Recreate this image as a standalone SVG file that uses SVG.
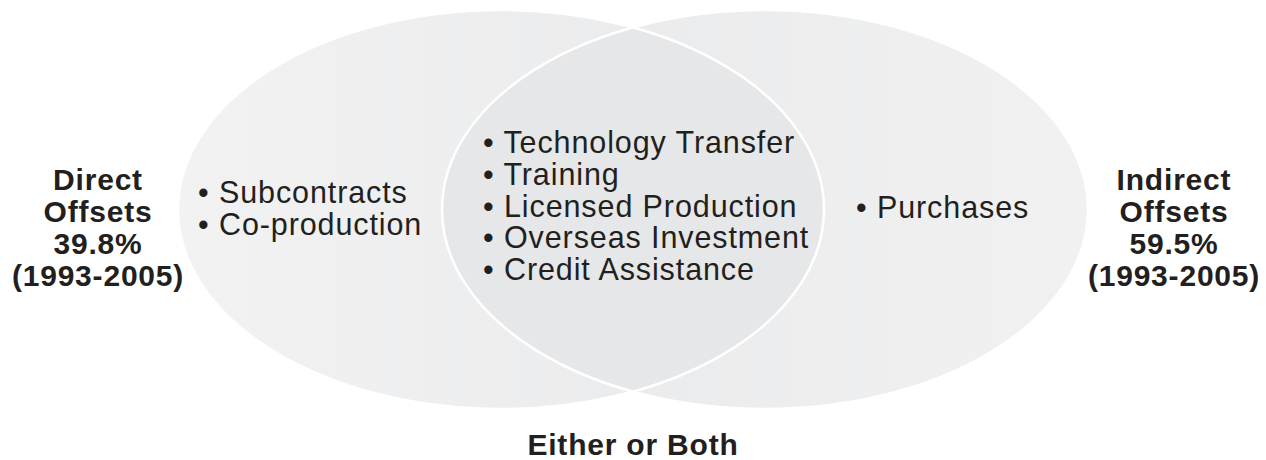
<svg xmlns="http://www.w3.org/2000/svg" width="1266" height="460" viewBox="0 0 1266 460">
  <defs>
    <linearGradient id="gL" x1="0" y1="0" x2="1" y2="0">
      <stop offset="0" stop-color="#f2f2f3"/>
      <stop offset="1" stop-color="#e8e9ea"/>
    </linearGradient>
    <linearGradient id="gR" x1="0" y1="0" x2="1" y2="0">
      <stop offset="0" stop-color="#e8e9ea"/>
      <stop offset="1" stop-color="#f1f1f2"/>
    </linearGradient>
    <clipPath id="clipL">
      <ellipse cx="501" cy="209.5" rx="323" ry="199.5"/>
    </clipPath>
    <style>
      .item { font-family: "Liberation Sans", Arial, sans-serif; font-size: 30.5px; letter-spacing: 0.9px; fill: #231f20; }
      .label { font-family: "Liberation Sans", Arial, sans-serif; font-size: 30px; font-weight: bold; letter-spacing: 0.8px; fill: #231f20; text-anchor: middle; }
      .edge { fill: none; stroke: #ffffff; stroke-width: 2.5; }
    </style>
  </defs>
  <rect width="1266" height="460" fill="#ffffff"/>
  <g id="direct-set">
    <ellipse cx="501" cy="209.5" rx="323" ry="199.5" fill="url(#gL)"/>
  </g>
  <g id="indirect-set">
    <ellipse cx="765" cy="209.5" rx="323" ry="199.5" fill="url(#gR)"/>
  </g>
  <g id="overlap">
    <ellipse cx="765" cy="209.5" rx="323" ry="199.5" fill="#e6e7e8" clip-path="url(#clipL)"/>
  </g>
  <g id="connectors">
    <ellipse class="edge" cx="501" cy="209.5" rx="323" ry="199.5"/>
    <ellipse class="edge" cx="765" cy="209.5" rx="323" ry="199.5"/>
  </g>
  <g id="direct-items">
    <text class="item" x="198" y="203">• Subcontracts</text>
    <text class="item" x="198" y="235">• Co-production</text>
  </g>
  <g id="overlap-items">
    <text class="item" x="483" y="153">• Technology Transfer</text>
    <text class="item" x="483" y="185">• Training</text>
    <text class="item" x="483" y="217">• Licensed Production</text>
    <text class="item" x="483" y="248">• Overseas Investment</text>
    <text class="item" x="483" y="280">• Credit Assistance</text>
  </g>
  <g id="indirect-items">
    <text class="item" x="856" y="218">• Purchases</text>
  </g>
  <g id="direct-label">
    <text class="label" x="98" y="190">Direct</text>
    <text class="label" x="98" y="222">Offsets</text>
    <text class="label" x="98" y="254">39.8%</text>
    <text class="label" x="98" y="286">(1993-2005)</text>
  </g>
  <g id="indirect-label">
    <text class="label" x="1174" y="190">Indirect</text>
    <text class="label" x="1174" y="222">Offsets</text>
    <text class="label" x="1174" y="254">59.5%</text>
    <text class="label" x="1174" y="286">(1993-2005)</text>
  </g>
  <g id="either-label">
    <text class="label" x="633" y="455">Either or Both</text>
  </g>
</svg>
